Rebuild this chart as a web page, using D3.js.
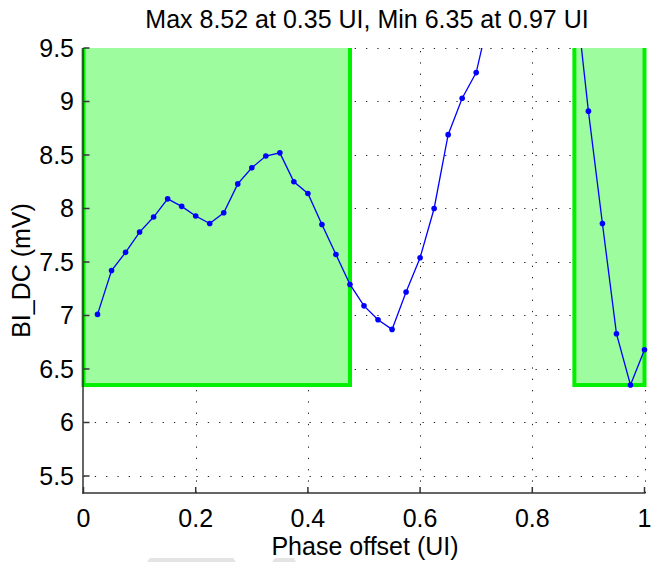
<!DOCTYPE html>
<html>
<head>
<meta charset="utf-8">
<script src="https://cdnjs.cloudflare.com/ajax/libs/d3/7.8.5/d3.min.js"></script>
<style>
  html, body { margin: 0; padding: 0; background: #fff; }
  #chart { width: 651px; height: 562px; }
  text { font-family: "Liberation Sans", Arial, Helvetica, sans-serif; fill: #000; }
</style>
</head>
<body>
<div id="chart"></div>
<script>
// data
var phase = [0.025, 0.05, 0.075, 0.1, 0.125, 0.15, 0.175, 0.2, 0.225, 0.25,
             0.275, 0.3, 0.325, 0.35, 0.375, 0.4, 0.425, 0.45, 0.475, 0.5,
             0.525, 0.55, 0.575, 0.6, 0.625, 0.65, 0.675, 0.7, 0.725, 0.75,
             0.775, 0.8, 0.825, 0.85, 0.875, 0.9, 0.925, 0.95, 0.975, 1.0];
var bidc = [7.01, 7.42, 7.59, 7.78, 7.92, 8.09, 8.02, 7.93, 7.86, 7.96,
            8.23, 8.38, 8.49, 8.52, 8.25, 8.14, 7.85, 7.57, 7.29, 7.09,
            6.96, 6.87, 7.22, 7.54, 8.0, 8.69, 9.03, 9.27, 9.84, 10.3,
            10.6, 10.7, 10.6, 10.4, 10.1, 8.91, 7.86, 6.83, 6.35, 6.68];
// shaded phase windows [start, end] and their floor
var windows = [[0, 0.475], [0.875, 1.0]];
var windowFloor = 6.35;
var xTicks = [0, 0.2, 0.4, 0.6, 0.8, 1];
var yTicks = [5.5, 6, 6.5, 7, 7.5, 8, 8.5, 9, 9.5];
var titleText = "Max 8.52 at 0.35 UI, Min 6.35 at 0.97 UI";
var xLabel = "Phase offset (UI)";
var yLabel = "BI_DC (mV)";

(function () {
  var width = 651, height = 562;
  var mLeft = 83.5, mRight = 644.5, mTop = 48, mBottom = 493;
  var fs = 25;

  var svg = d3.select("#chart").append("svg")
      .attr("width", width)
      .attr("height", height);

  var x = d3.scaleLinear().domain([0, 1]).range([mLeft, mRight]);
  var y = d3.scaleLinear().domain([5.341, 9.5]).range([mBottom, mTop]);

  var defs = svg.append("defs");
  defs.append("clipPath").attr("id", "plotclip")
    .append("rect")
      .attr("x", mLeft - 4).attr("y", mTop)
      .attr("width", mRight - mLeft + 8).attr("height", mBottom - mTop);
  defs.append("clipPath").attr("id", "lineclip")
    .append("rect")
      .attr("x", 0).attr("y", mTop)
      .attr("width", width).attr("height", mBottom - mTop);

  // dotted grid
  var grid = svg.append("g").attr("stroke", "#222").attr("stroke-width", 1)
      .attr("stroke-dasharray", "1.3,10");
  grid.selectAll(".gx").data(xTicks.slice(1)).enter().append("line")
      .attr("x1", d => Math.round(x(d)) + 0.5).attr("x2", d => Math.round(x(d)) + 0.5)
      .attr("y1", mBottom).attr("y2", mTop);
  grid.selectAll(".gy").data(yTicks).enter().append("line")
      .attr("x1", mLeft).attr("x2", mRight)
      .attr("y1", d => Math.round(y(d)) + 0.5).attr("y2", d => Math.round(y(d)) + 0.5);

  // green windows
  var plot = svg.append("g").attr("clip-path", "url(#plotclip)");
  plot.selectAll(".win").data(windows).enter().append("rect")
      .attr("x", d => x(d[0]))
      .attr("y", y(9.5) - 10)
      .attr("width", d => x(d[1]) - x(d[0]))
      .attr("height", d => y(windowFloor) - y(9.5) + 10)
      .attr("fill", "rgb(157,252,157)")
      .attr("stroke", "#00f000")
      .attr("stroke-width", 4);

  // curve
  var pts = phase.map((p, i) => [p, bidc[i]]);
  var curve = svg.append("g").attr("clip-path", "url(#lineclip)");
  curve.append("path")
      .datum(pts)
      .attr("fill", "none")
      .attr("stroke", "#0000ff")
      .attr("stroke-width", 1.3)
      .attr("d", d3.line().x(d => x(d[0])).y(d => y(d[1])));
  curve.selectAll(".dot").data(pts.filter(d => d[1] <= 9.5)).enter().append("circle")
      .attr("cx", d => x(d[0]))
      .attr("cy", d => y(d[1]))
      .attr("r", 2.8)
      .attr("fill", "#0000ff");

  // axes (left + bottom only, ticks inward)
  var axes = svg.append("g").attr("stroke", "#333").attr("stroke-width", 1.5);
  axes.append("line").attr("x1", mLeft - 0.5).attr("x2", mLeft - 0.5).attr("y1", mTop).attr("y2", mBottom + 0.75);
  axes.append("line").attr("x1", mLeft - 1.25).attr("x2", mRight + 1).attr("y1", mBottom).attr("y2", mBottom);
  axes.selectAll(".tx").data(xTicks).enter().append("line")
      .attr("x1", d => x(d)).attr("x2", d => x(d))
      .attr("y1", mBottom).attr("y2", mBottom - 6);
  axes.selectAll(".ty").data(yTicks).enter().append("line")
      .attr("x1", mLeft).attr("x2", mLeft + 6)
      .attr("y1", d => y(d)).attr("y2", d => y(d));

  // tick labels
  svg.selectAll(".xl").data(xTicks).enter().append("text")
      .attr("x", d => x(d)).attr("y", 527)
      .attr("text-anchor", "middle")
      .attr("font-size", fs)
      .text(d => d3.format("~g")(d));
  svg.selectAll(".yl").data(yTicks).enter().append("text")
      .attr("x", 74).attr("y", d => y(d) + 9)
      .attr("text-anchor", "end")
      .attr("font-size", fs)
      .text(d => d3.format("~g")(d));

  // labels
  svg.append("text")
      .attr("x", (mLeft + mRight) / 2 + 3).attr("y", 28)
      .attr("text-anchor", "middle").attr("font-size", fs)
      .text(titleText);
  svg.append("text")
      .attr("x", (mLeft + mRight) / 2 + 1).attr("y", 555)
      .attr("text-anchor", "middle").attr("font-size", fs)
      .text(xLabel);
  svg.append("text")
      .attr("transform", "translate(30," + ((mTop + mBottom) / 2) + ") rotate(-90)")
      .attr("text-anchor", "middle").attr("font-size", fs)
      .text(yLabel);

  // faint grey marks cut off at the bottom edge of the picture
  svg.append("polygon").attr("points", "147,562 150,558 233,558 236,562").attr("fill", "#e4e4e4");
  svg.append("polygon").attr("points", "272,562 275,558 294,558 296,562").attr("fill", "#e4e4e4");
})();
</script>
</body>
</html>
